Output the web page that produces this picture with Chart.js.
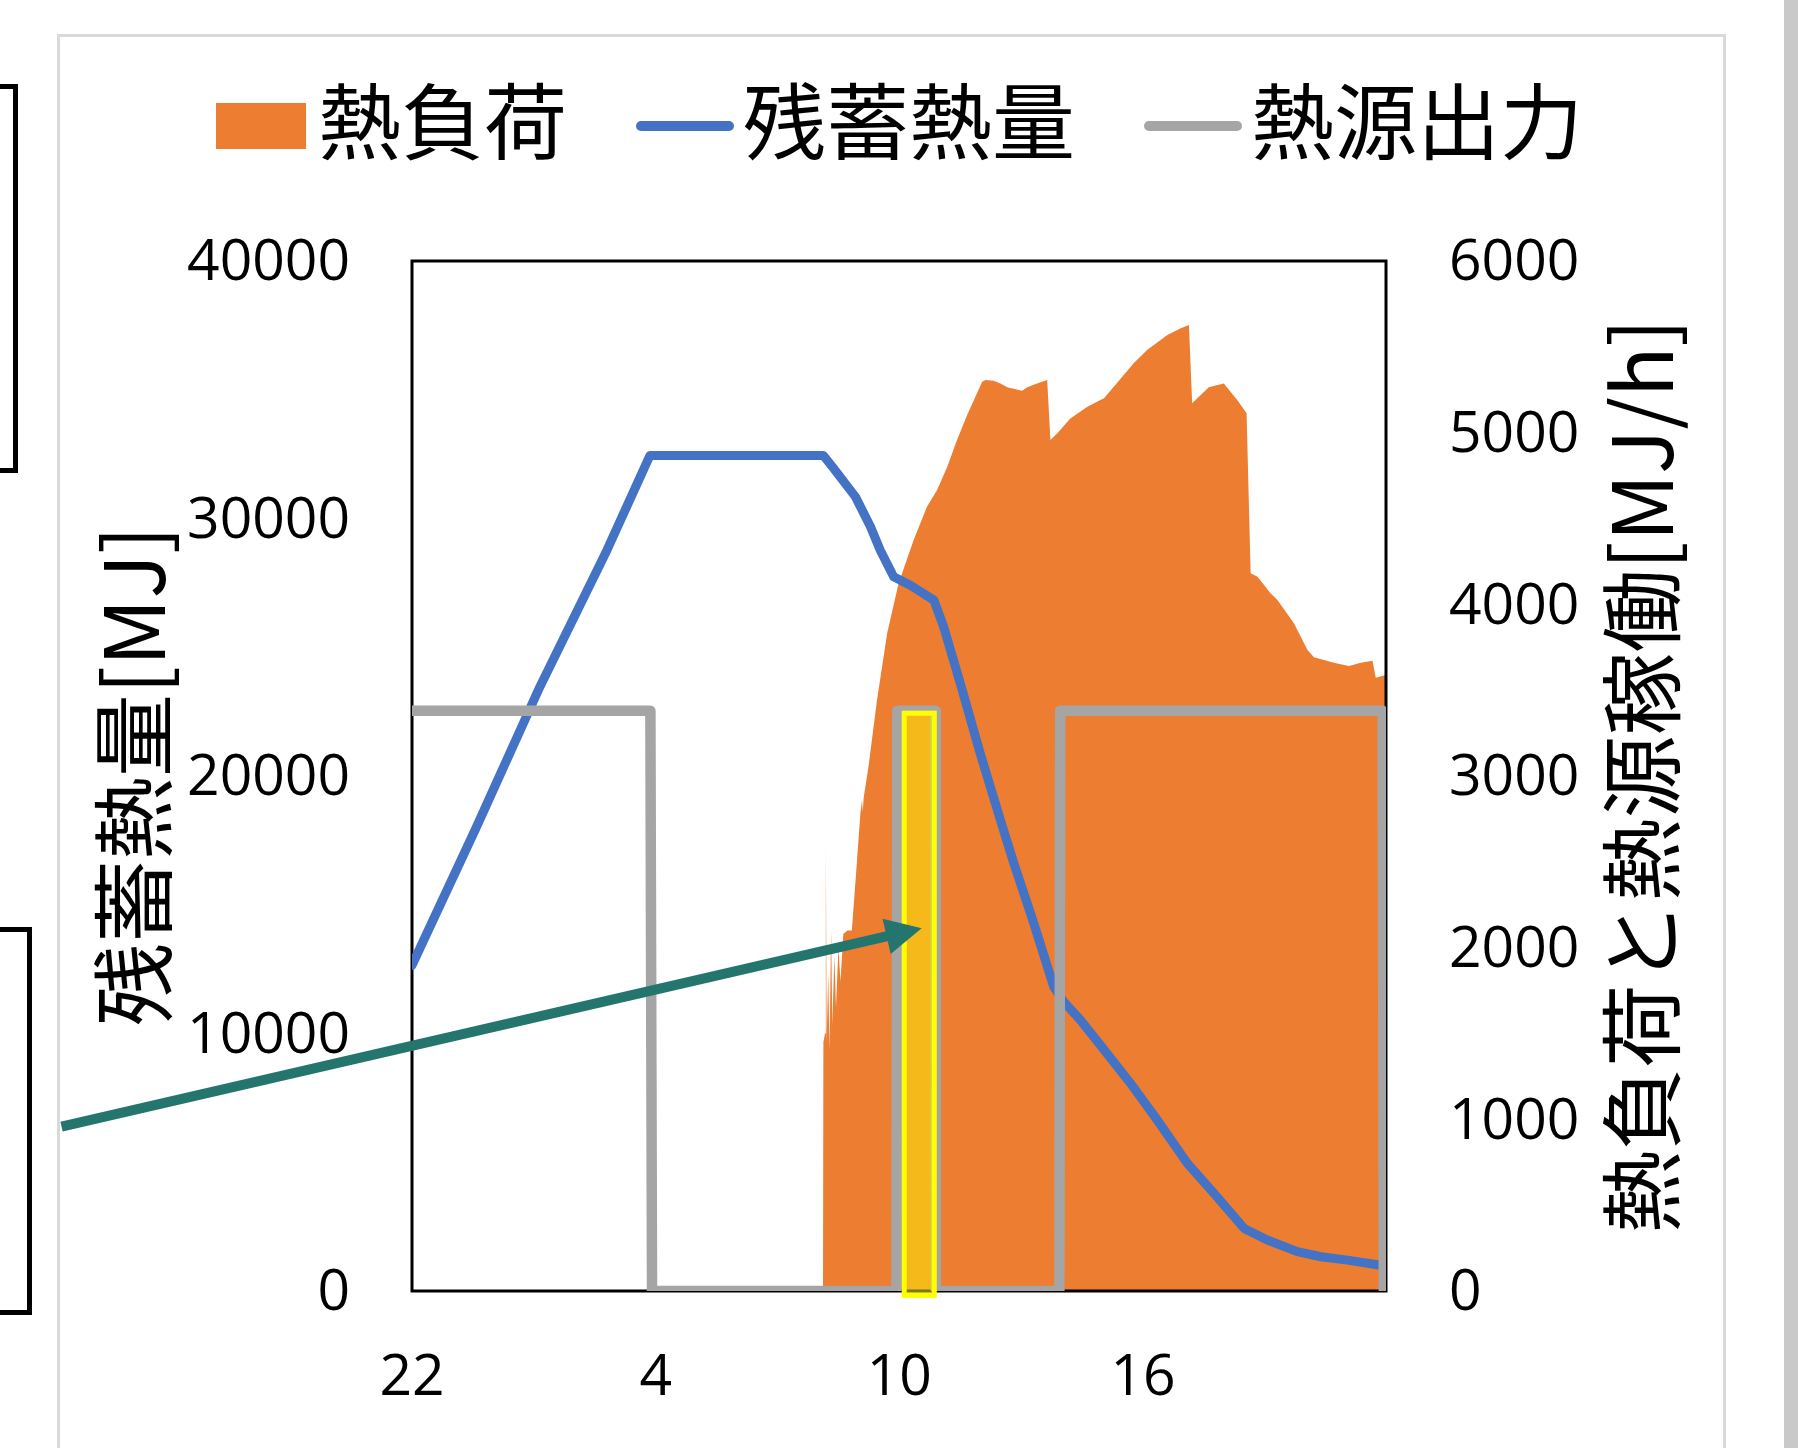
<!DOCTYPE html>
<html lang="ja">
<head>
<meta charset="utf-8">
<title>熱負荷・残蓄熱量・熱源出力</title>
<script src="https://cdn.jsdelivr.net/npm/chart.js@4/dist/chart.umd.min.js"></script>
<style>
  html, body { margin: 0; padding: 0; background: #fff; }
  body { width: 1798px; height: 1448px; position: relative; overflow: hidden; }
  #chart { position: absolute; left: 0; top: 0; }
  .outline { position: absolute; left: 57px; top: 34px; width: 1669px; height: 1500px;
             border: 3px solid #D9D9D9; box-sizing: border-box; }
  .edge { position: absolute; left: 1784px; top: 0; width: 14px; height: 1448px; background: #C9C9C9; }
  .box { position: absolute; border: 5px solid #000; box-sizing: border-box; }
  #legend { position: absolute; left: 216px; top: 76px; display: flex; align-items: center;
            font-family: "Noto Sans CJK JP"; font-size: 83px; line-height: 83px; color: #000; white-space: nowrap; }
  #legend .item { display: flex; align-items: center; margin-right: 69px; }
  #legend .swatch { position: relative; top: 8px; margin-right: 12px; }
</style>
</head>
<body>
<div class="outline"></div>
<div class="edge"></div>
<div class="box" style="left:-10px; top:84px; width:28px; height:389px;"></div>
<div class="box" style="left:-10px; top:927px; width:42px; height:388px;"></div>
<canvas id="chart" width="1798" height="1448"></canvas>
<div id="legend"></div>

<script>
// Time axis: hours elapsed since 22:00
const xTickHours  = [0, 6, 12, 18];
const xTickLabels = ['22', '4', '10', '16'];
const xMaxHours   = 23.983;   // 21:59

// 熱負荷 [MJ/h] (right axis)
const loadTime = [0, 10.12, 10.13, 10.17, 10.19, 10.21, 10.25, 10.28, 10.32, 10.35, 10.40, 10.44, 10.50, 10.55,
  10.62, 10.72, 10.83, 10.94, 11.04, 11.08, 11.10, 11.12, 11.24, 11.45, 11.70, 11.98, 12.35, 12.68, 12.93,
  13.18, 13.42, 13.67, 14.04, 14.12, 14.32, 14.49, 14.66, 15.02, 15.15, 15.39, 15.64, 15.72, 15.89, 16.21,
  16.63, 16.95, 17.04, 17.28, 17.77, 18.10, 18.60, 18.93, 19.13, 19.21, 19.62, 19.99, 20.32, 20.55, 20.65,
  20.82, 21.14, 21.31, 21.72, 22.05, 22.21, 22.70, 23.07, 23.36, 23.65, 23.73, 23.98];
const loadMJh = [0, 0, 1450, 1500, 2590, 1450, 1850, 1400, 2100, 1550, 1950, 1650, 2000, 1800,
  2080, 2100, 2100, 2450, 2780, 2860, 2790, 2870, 3054, 3443, 3831, 4122, 4374, 4569, 4666,
  4801, 4957, 5103, 5297, 5307, 5303, 5287, 5264, 5244, 5264, 5287, 5307, 4957, 4996, 5083,
  5151, 5190, 5200, 5268, 5404, 5481, 5569, 5608, 5627, 5171, 5264, 5287, 5190, 5113, 4181,
  4161, 4064, 4025, 3889, 3734, 3692, 3660, 3641, 3660, 3672, 3573, 3588];

// 残蓄熱量 [MJ] (left axis)
const storageTime = [0, 1.59, 3.15, 4.80, 5.86, 10.13, 10.38, 10.92, 11.29, 11.53, 11.86, 12.27, 12.85,
  13.09, 13.50, 13.99, 14.49, 14.82, 15.31, 15.80, 16.05, 16.46, 16.95, 17.69, 18.35, 19.09, 19.75,
  20.49, 21.06, 21.80, 22.38, 23.03, 23.81, 23.98];
const storageMJ = [12650, 18030, 23470, 28770, 32450, 32450, 31950, 30840, 29680, 28770, 27740, 27410, 26830,
  25800, 23600, 20880, 18280, 16610, 14280, 11820, 11230, 10520, 9550, 8070, 6640, 4960, 3790,
  2430, 1980, 1530, 1330, 1200, 1010, 970];

// 熱源出力 [MJ/h] (right axis)
const outputTime = [0, 5.87, 5.91, 11.93, 11.95, 12.88, 12.90, 15.94, 15.96, 23.90, 23.93];
const outputMJh  = [3380, 3380, 0, 0, 3380, 3380, 0, 0, 3380, 3380, 0];

// Highlighted operating slot (time range in hours, value range on the right axis)
const highlightTime = [12.12, 12.86];
const highlightMJh  = [-26, 3366];

// Callout arrow pointing at the highlighted slot (right-axis units)
const arrowFrom = { x: -8.63, y: 957 };
const arrowTo   = { x: 12.55, y: 2113 };

const toPoints = (xs, ys) => xs.map((x, i) => ({ x: x, y: ys[i] }));

const tickFont  = { family: '"Open Sans", "Noto Sans", sans-serif', size: 57 };
const titleFont = '"Noto Sans CJK JP", sans-serif';

// Plot frame drawn right after the filled load area, beneath the lines
const framePlugin = {
  id: 'plotFrame',
  afterDatasetDraw(chart, args) {
    if (args.index !== 0) return;
    const { ctx, chartArea: a } = chart;
    ctx.save();
    ctx.strokeStyle = '#000';
    ctx.lineWidth = 3;
    ctx.strokeRect(a.left, a.top, a.right - a.left, a.bottom - a.top);
    ctx.restore();
  }
};

// Highlight box, callout arrow and right-hand axis title
const overlayPlugin = {
  id: 'overlay',
  afterDraw(chart) {
    const { ctx, chartArea: a } = chart;
    const xs = chart.scales.x, ys = chart.scales.y1;

    // highlight box
    const hx0 = xs.getPixelForValue(highlightTime[0]);
    const hx1 = xs.getPixelForValue(highlightTime[1]);
    const hy0 = ys.getPixelForValue(highlightMJh[1]);
    const hy1 = ys.getPixelForValue(highlightMJh[0]);
    ctx.save();
    ctx.fillStyle = 'rgba(255,255,0,0.47)';
    ctx.fillRect(hx0, hy0, hx1 - hx0, hy1 - hy0);
    ctx.strokeStyle = '#FFFF00';
    ctx.lineWidth = 5;
    ctx.strokeRect(hx0, hy0, hx1 - hx0, hy1 - hy0);
    ctx.restore();

    // arrow
    const x0 = xs.getPixelForValue(arrowFrom.x), y0 = ys.getPixelForValue(arrowFrom.y);
    const x1 = xs.getPixelForValue(arrowTo.x),   y1 = ys.getPixelForValue(arrowTo.y);
    const ang = Math.atan2(y1 - y0, x1 - x0);
    const headLen = 36, headHalf = 18;
    const bx = x1 - headLen * Math.cos(ang), by = y1 - headLen * Math.sin(ang);
    ctx.save();
    ctx.strokeStyle = '#25756F';
    ctx.fillStyle = '#25756F';
    ctx.lineWidth = 10;
    ctx.beginPath();
    ctx.moveTo(x0, y0);
    ctx.lineTo(bx + 2 * Math.cos(ang), by + 2 * Math.sin(ang));
    ctx.stroke();
    ctx.beginPath();
    ctx.moveTo(x1, y1);
    ctx.lineTo(bx + headHalf * Math.sin(ang), by - headHalf * Math.cos(ang));
    ctx.lineTo(bx - headHalf * Math.sin(ang), by + headHalf * Math.cos(ang));
    ctx.closePath();
    ctx.fill();
    ctx.restore();

    // right axis title, reading bottom to top
    const t = chart.options.scales.y1.title;
    ctx.save();
    ctx.translate(ys.right - 157, (a.top + a.bottom) / 2);
    ctx.rotate(-Math.PI / 2);
    ctx.fillStyle = '#000';
    ctx.font = '83px ' + titleFont;
    ctx.textAlign = 'center';
    ctx.textBaseline = 'middle';
    ctx.fillText(t.text, 0, 0);
    ctx.restore();
  }
};

const chart = new Chart(document.getElementById('chart'), {
  type: 'line',
  data: {
    datasets: [
      { label: '熱負荷', data: toPoints(loadTime, loadMJh), yAxisID: 'y1', order: 3,
        fill: 'origin', backgroundColor: '#ED7D31', borderColor: 'rgba(0,0,0,0)', borderWidth: 0,
        pointRadius: 0, tension: 0 },
      { label: '残蓄熱量', data: toPoints(storageTime, storageMJ), yAxisID: 'y', order: 2,
        fill: false, borderColor: '#4472C4', backgroundColor: '#4472C4', borderWidth: 9,
        borderJoinStyle: 'round', borderCapStyle: 'round', pointRadius: 0, tension: 0 },
      { label: '熱源出力', data: toPoints(outputTime, outputMJh), yAxisID: 'y1', order: 1,
        fill: false, borderColor: '#A5A5A5', backgroundColor: '#A5A5A5', borderWidth: 10.5,
        borderJoinStyle: 'round', borderCapStyle: 'round', pointRadius: 0, tension: 0 }
    ]
  },
  options: {
    responsive: false,
    animation: false,
    devicePixelRatio: 1,
    layout: { padding: { top: 261, left: 0, right: 0, bottom: 0 } },
    plugins: { legend: { display: false }, tooltip: { enabled: false } },
    scales: {
      x: {
        type: 'linear', position: 'bottom', min: 0, max: xMaxHours,
        grid: { display: false, drawTicks: false }, border: { display: false },
        afterBuildTicks: s => { s.ticks = xTickHours.map(v => ({ value: v })); },
        ticks: { autoSkip: false, maxRotation: 0, padding: 54, color: '#000', font: tickFont,
                 callback: (v, i) => xTickLabels[i] },
        afterFit: s => { s.height = 157; }
      },
      y: {
        position: 'left', min: 0, max: 40000,
        grid: { display: false, drawTicks: false }, border: { display: false },
        ticks: { stepSize: 10000, padding: 62, labelOffset: 3, color: '#000', font: tickFont, callback: v => String(v) },
        title: { display: true, text: '残蓄熱量[MJ]', color: '#000',
                 font: { family: titleFont, size: 83, lineHeight: 1 }, padding: { top: 92, bottom: 0 } },
        afterFit: s => { s.width = 412; }
      },
      y1: {
        position: 'right', min: 0, max: 6000,
        grid: { display: false, drawTicks: false }, border: { display: false },
        ticks: { stepSize: 1000, padding: 63, labelOffset: 3, color: '#000', font: tickFont, callback: v => String(v) },
        title: { display: false, text: '熱負荷と熱源稼働[MJ/h]' },
        afterFit: s => { s.width = 412; }
      }
    }
  },
  plugins: [framePlugin, overlayPlugin]
});

// Legend built from the datasets
const legend = document.getElementById('legend');
chart.data.datasets.forEach(ds => {
  const item = document.createElement('div');
  item.className = 'item';
  const sw = document.createElement('span');
  sw.className = 'swatch';
  if (ds.fill) {
    sw.style.cssText += 'display:inline-block;width:90px;height:46px;background:' + ds.backgroundColor + ';';
  } else {
    sw.style.cssText += 'display:inline-block;width:98px;height:10px;border-radius:5px;margin-right:9px;background:' + ds.borderColor + ';';
  }
  const label = document.createElement('span');
  label.textContent = ds.label;
  item.appendChild(sw);
  item.appendChild(label);
  legend.appendChild(item);
});
</script>
</body>
</html>
